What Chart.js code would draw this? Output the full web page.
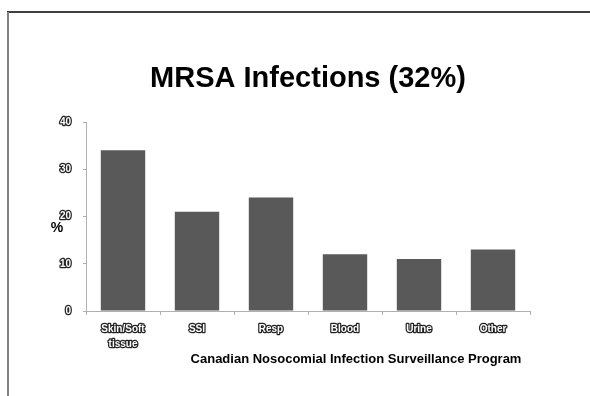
<!DOCTYPE html>
<html lang="en">
<head>
    <meta charset="UTF-8">
    <title>MRSA Infections (32%)</title>
    <script src="https://cdn.jsdelivr.net/npm/chart.js"></script>
    <style>
        body {
            margin: 0;
            background: #fff;
        }
        #chart-container {
            width: 590px;
            height: 396px;
        }
    </style>
</head>
<body>
    <div id="chart-container">
        <canvas id="mrsaChart" width="590" height="396"></canvas>
    </div>

    <script>
        // Infection sites and share of MRSA infections (%)
        const sites = [['Skin/Soft', 'tissue'], 'SSI', 'Resp', 'Blood', 'Urine', 'Other'];
        const percents = [34, 21, 24, 12, 11, 13];
        const yTicks = [0, 10, 20, 30, 40];

        const chartTitle = 'MRSA Infections (32%)';
        const sourceNote = 'Canadian Nosocomial Infection Surveillance Program';

        // Slide frame, title, "%" label and source line
        const slideText = {
            id: 'slideText',
            beforeDraw(chart) {
                // round joins keep the outlined tick text free of miter spikes
                chart.ctx.lineJoin = 'round';
            },
            afterDraw(chart) {
                const ctx = chart.ctx;
                const area = chart.chartArea;
                ctx.save();

                // frame lines
                ctx.strokeStyle = '#000';
                ctx.lineWidth = 1.5;
                ctx.beginPath();
                ctx.moveTo(7, 12);
                ctx.lineTo(590, 12);
                ctx.stroke();
                ctx.strokeStyle = '#808080';
                ctx.lineWidth = 2;
                ctx.beginPath();
                ctx.moveTo(8, 12);
                ctx.lineTo(8, 396);
                ctx.stroke();

                ctx.fillStyle = '#000';
                ctx.textAlign = 'center';
                ctx.textBaseline = 'alphabetic';

                ctx.font = 'bold 29px "Liberation Sans", Arial, sans-serif';
                ctx.fillText(chartTitle, 308, 87);

                ctx.font = 'bold 13px "Liberation Sans", Arial, sans-serif';
                ctx.fillText(sourceNote, 356, 363);

                ctx.textBaseline = 'middle';
                ctx.font = 'bold 14px "Liberation Sans", Arial, sans-serif';
                ctx.fillText('%', 57, (area.top + area.bottom) / 2 + 12);
                ctx.restore();
            }
        };

        const tickFont = { family: '"Liberation Sans", Arial, sans-serif', size: 10, weight: 'bold', lineHeight: 1.5 };

        const ctx = document.getElementById('mrsaChart').getContext('2d');
        new Chart(ctx, {
            type: 'bar',
            data: {
                labels: sites,
                datasets: [{
                    data: percents,
                    backgroundColor: '#595959',
                    borderWidth: 0,
                    barPercentage: 0.6,
                    categoryPercentage: 1
                }]
            },
            options: {
                responsive: false,
                animation: false,
                layout: {
                    padding: { left: 46, right: 60, top: 122, bottom: 45 }
                },
                plugins: {
                    legend: { display: false },
                    tooltip: { enabled: false }
                },
                scales: {
                    x: {
                        afterFit(scale) { scale.height = 40; },
                        border: { color: '#b0b0b0' },
                        grid: { drawOnChartArea: false, tickLength: 4, color: '#b0b0b0' },
                        ticks: {
                            color: '#fff',
                            textStrokeColor: '#222',
                            textStrokeWidth: 2.5,
                            font: tickFont,
                            padding: 7,
                            maxRotation: 0,
                            autoSkip: false
                        }
                    },
                    y: {
                        min: 0,
                        max: 40,
                        afterFit(scale) { scale.width = 40; },
                        afterBuildTicks(scale) {
                            scale.ticks = yTicks.map(v => ({ value: v }));
                        },
                        border: { color: '#b0b0b0' },
                        grid: { drawOnChartArea: false, tickLength: 3, color: '#b0b0b0' },
                        ticks: {
                            color: '#fff',
                            textStrokeColor: '#222',
                            textStrokeWidth: 2.5,
                            font: tickFont,
                            padding: 12
                        }
                    }
                }
            },
            plugins: [slideText]
        });
    </script>
</body>
</html>
